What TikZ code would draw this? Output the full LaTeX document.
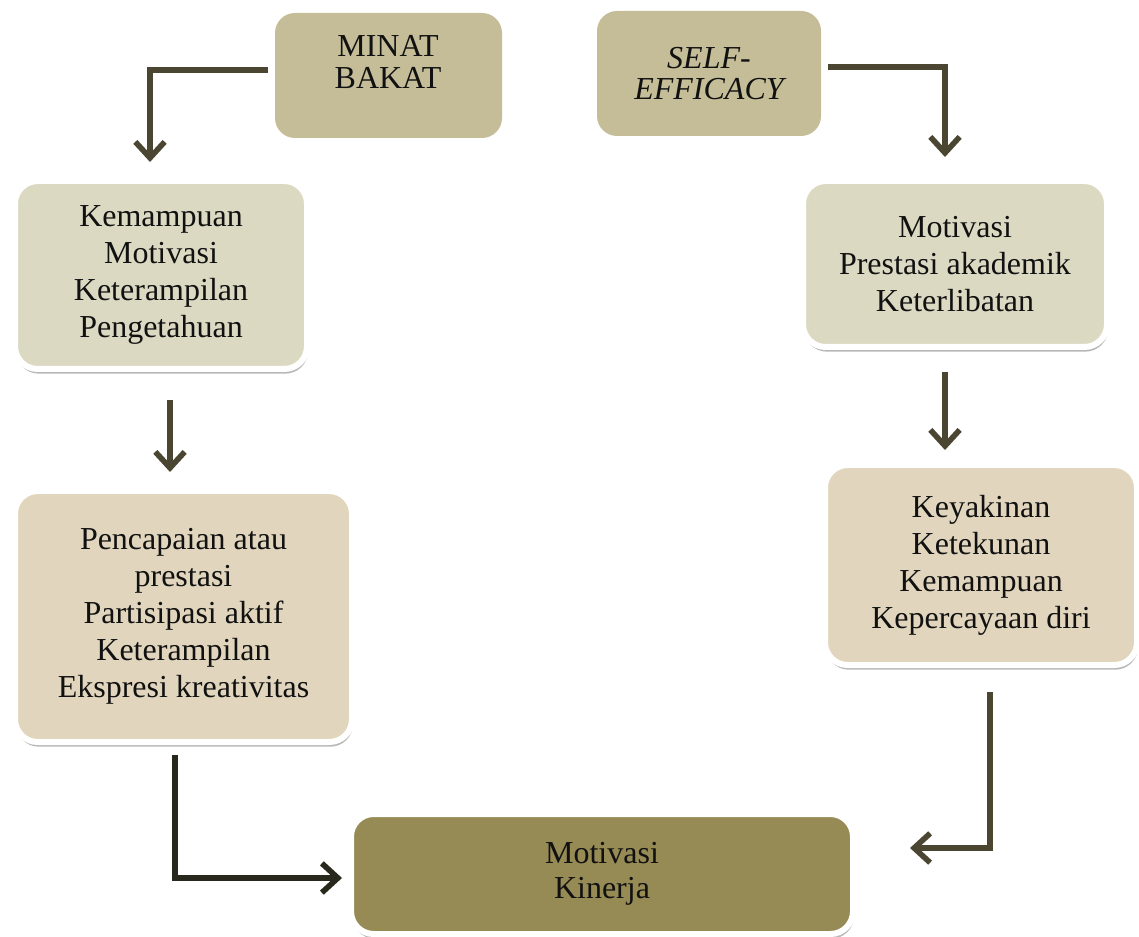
\documentclass[tikz,border=0pt]{standalone}
\usepackage{fontspec}
\setmainfont{Liberation Serif}
\usetikzlibrary{arrows.meta,shadows}
\definecolor{topc}{HTML}{C4BD98}
\definecolor{grayc}{HTML}{DCD9C3}
\definecolor{beigec}{HTML}{E1D6BD}
\definecolor{kinc}{HTML}{968A55}
\definecolor{arrc}{HTML}{4B4631}
\definecolor{arrd}{HTML}{29281C}
\definecolor{txt}{HTML}{111111}
\tikzset{
  box/.style={rounded corners=17pt, align=center, text=txt, inner sep=0pt,
    font=\fontsize{24}{27.75}\selectfont},
  topbox/.style={box, fill=topc, rounded corners=15pt},
  wbox/.style={box, draw=white, line width=4.5pt,
    drop shadow={shadow xshift=0.8pt, shadow yshift=-3.5pt, opacity=0.28, fill=black}},
  arr/.style={draw=arrc, line width=4.2pt, line join=miter,
    -{Straight Barb[length=12pt,width=22pt]}},
}
\begin{document}
\begin{tikzpicture}[x=0.75pt,y=-0.75pt]
\useasboundingbox (0,0) rectangle (1139,937);
% top boxes
\node[topbox, minimum width=170.25pt, minimum height=93.75pt] (minat) at (388.5,75.5) {};
\node[align=center, text=txt, font=\fontsize{24}{24}\selectfont] (minattxt) at (388,62) {MINAT\\BAKAT};
\node[topbox, minimum width=168pt, minimum height=93.75pt, font=\fontsize{24}{23.25}\selectfont\itshape] (self) at (709,73.5) {SELF-\\EFFICACY};
% middle boxes
\node[wbox, fill=grayc, minimum width=219pt, minimum height=141pt] (kem) at (161,275)
  {Kemampuan\\Motivasi\\Keterampilan\\Pengetahuan};
\node[wbox, fill=grayc, minimum width=228pt, minimum height=124.5pt] (mot) at (955,264)
  {Motivasi\\Prestasi akademik\\Keterlibatan};
\node[wbox, fill=beigec, minimum width=252.75pt, minimum height=188.25pt] (pen) at (183.5,616.5)
  {Pencapaian atau\\prestasi\\Partisipasi aktif\\Keterampilan\\Ekspresi kreativitas};
\node[wbox, fill=beigec, minimum width=234pt, minimum height=150pt] (key) at (981,565)
  {Keyakinan\\Ketekunan\\Kemampuan\\Kepercayaan diri};
\node[wbox, fill=kinc, minimum width=376.5pt, minimum height=90pt, font=\fontsize{24}{26.25}\selectfont] (kin) at (602,874)
  {Motivasi\\Kinerja};
% connector end points
\coordinate (a1s) at (268,70);
\coordinate (a1e) at (150,162);
\coordinate (a2s) at (828,67);
\coordinate (a2e) at (945,157);
\coordinate (a3s) at (170,400);
\coordinate (a3e) at (170,472);
\coordinate (a4s) at (945,372);
\coordinate (a4e) at (945,450);
\coordinate (a5s) at (175,755);
\coordinate (a5e) at (342,878);
\coordinate (a6s) at (990,692);
\coordinate (a6e) at (910,848);
% connectors
\draw[arr] (a1s) -| (a1e);
\draw[arr] (a2s) -| (a2e);
\draw[arr] (a3s) -- (a3e);
\draw[arr] (a4s) -- (a4e);
\draw[arr, draw=arrd] (a5s) |- (a5e);
\draw[arr] (a6s) |- (a6e);
\end{tikzpicture}
\end{document}
